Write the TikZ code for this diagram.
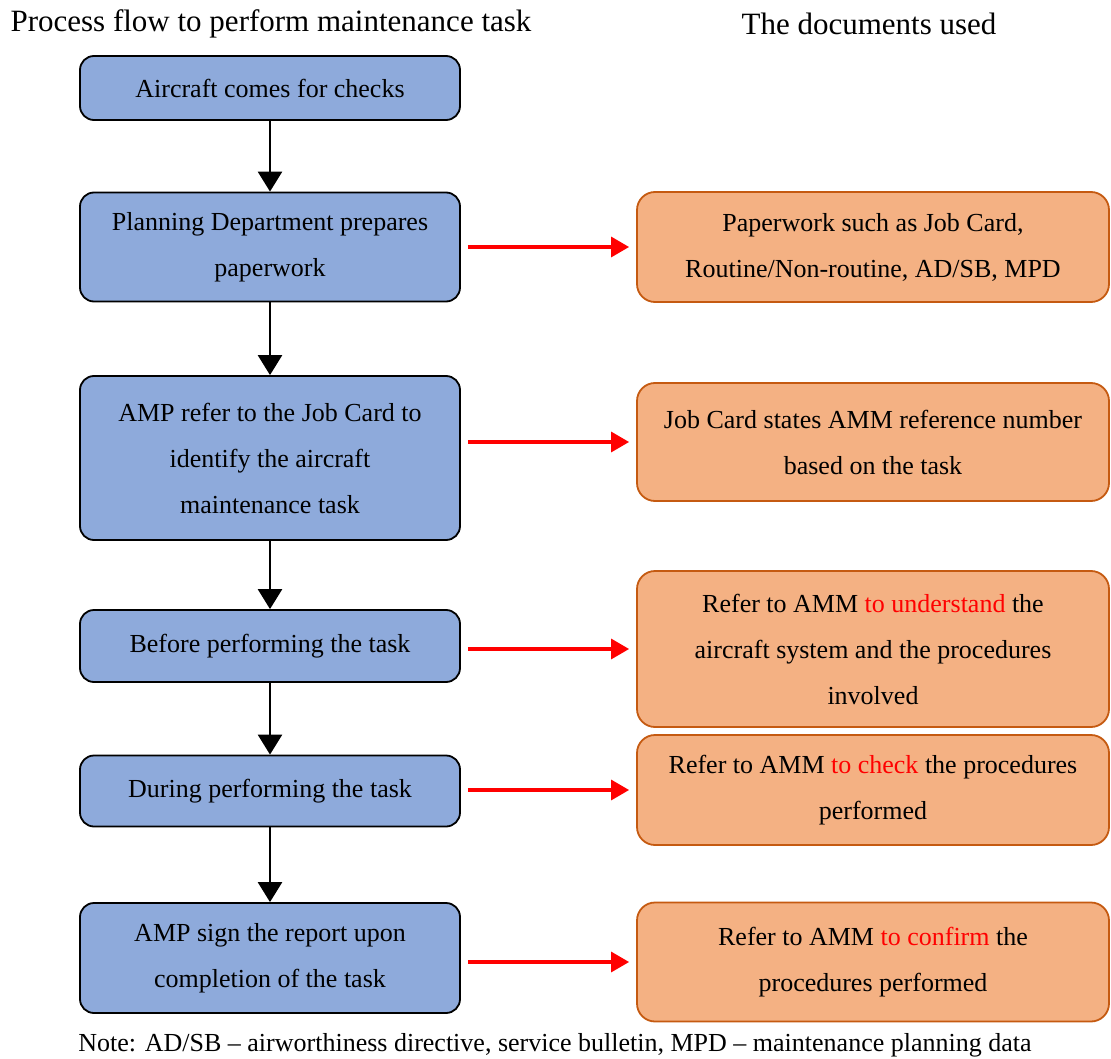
\documentclass[tikz,border=0pt]{standalone}
\usepackage{fontspec}
\setmainfont{Liberation Serif}
\usepackage{tikz}
\usetikzlibrary{arrows.meta,positioning}
\definecolor{Flow}{HTML}{8EAADB}
\definecolor{Docs}{HTML}{F4B183}
\definecolor{DocsLine}{HTML}{C55A11}
\definecolor{Hot}{HTML}{FF0000}
\newcommand{\hot}[1]{\textcolor{Hot}{#1}}

\begin{document}
\begin{tikzpicture}[
    x=1pt, y=-1pt,
    every node/.style={font={\fontsize{26}{46}\selectfont}},
    flowbox/.style={draw, line width=1.8pt, rounded corners=14pt, fill=Flow,
      minimum width=380pt, align=center, inner sep=0pt},
    docbox/.style={draw=DocsLine, line width=1.8pt, rounded corners=18pt, fill=Docs,
      minimum width=472pt, align=center, inner sep=0pt},
    flowarrow/.style={line width=2.6pt, -{Triangle[width=24pt,length=20pt]}},
    docarrow/.style={draw=Hot, line width=3.2pt, -{Triangle[width=20pt,length=18pt]}, Hot},
    title/.style={font={\fontsize{31}{34}\selectfont}}
  ]
  \useasboundingbox (0,0) rectangle (1111,1059);

  \node[title] (lefttitle) at (271,24) {Process flow to perform maintenance task};
  \node[title] (righttitle) at (869,24) {The documents used};

  % process flow
  \node[flowbox, minimum height=64pt] (arrive) at (270,88) {Aircraft comes for checks};
  \node[flowbox, minimum height=109pt] (planning) at (270,247)
    {Planning Department prepares\\paperwork};
  \node[flowbox, minimum height=164pt] (identify) at (270,458)
    {AMP refer to the Job Card to\\identify the aircraft\\maintenance task};
  \node[flowbox, minimum height=72pt] (before) at (270,646) {Before performing the task};
  \node[flowbox, minimum height=71pt] (during) at (270,791) {During performing the task};
  \node[flowbox, minimum height=110pt] (sign) at (270,958)
    {AMP sign the report upon\\completion of the task};

  % documents
  \node[docbox, minimum height=110pt] (paperwork) at (873,247)
    {Paperwork such as Job Card,\\Routine/Non-routine, AD/SB, MPD};
  \node[docbox, minimum height=118pt] (jobcard) at (873,442)
    {Job Card states AMM reference number\\based on the task};
  \node[docbox, minimum height=156pt] (understand) at (873,649)
    {Refer to AMM \hot{to understand} the\\aircraft system and the procedures\\involved};
  \node[docbox, minimum height=110pt] (check) at (873,790)
    {Refer to AMM \hot{to check} the procedures\\performed};
  \node[docbox, minimum height=119pt] (confirm) at (873,962)
    {Refer to AMM \hot{to confirm} the\\procedures performed};

  \node (note) at (555,1045)
    {Note: AD/SB -- airworthiness directive, service bulletin, MPD -- maintenance planning data};

  \draw[flowarrow] (arrive) -- (planning);
  \draw[flowarrow] (planning) -- (identify);
  \draw[flowarrow] (identify) -- (before);
  \draw[flowarrow] (before) -- (during);
  \draw[flowarrow] (during) -- (sign);

  \draw[docarrow] ([xshift=7pt]planning.east |- paperwork.west) -- ([xshift=-7pt]paperwork.west);
  \draw[docarrow] ([xshift=7pt]identify.east |- jobcard.west) -- ([xshift=-7pt]jobcard.west);
  \draw[docarrow] ([xshift=7pt]before.east |- understand.west) -- ([xshift=-7pt]understand.west);
  \draw[docarrow] ([xshift=7pt]during.east |- check.west) -- ([xshift=-7pt]check.west);
  \draw[docarrow] ([xshift=7pt]sign.east |- confirm.west) -- ([xshift=-7pt]confirm.west);
\end{tikzpicture}
\end{document}
